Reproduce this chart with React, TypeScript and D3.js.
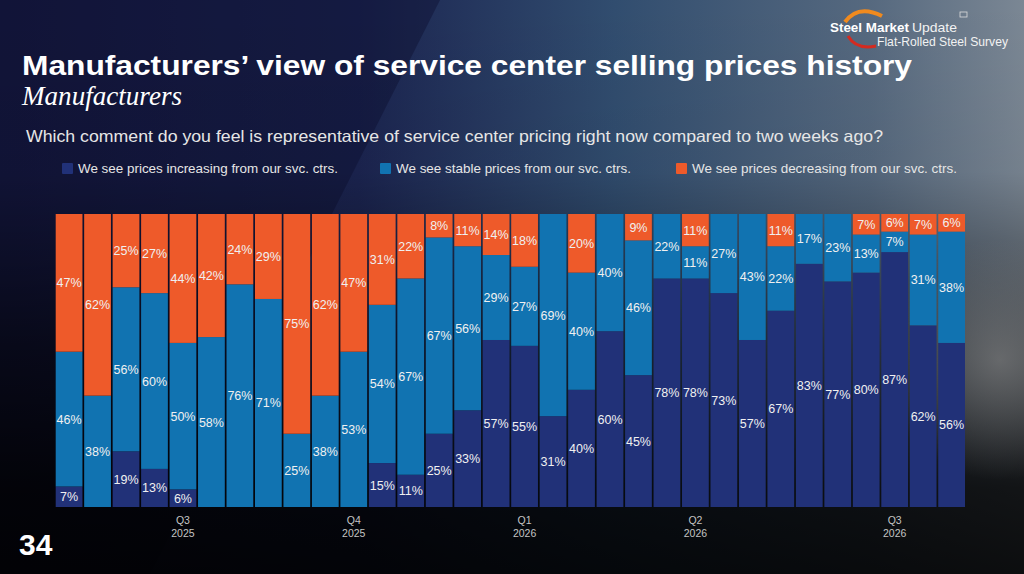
import React from "react";
import * as d3 from "d3";

const increasing = [7,0,19,13,6,0,0,0,0,0,0,15,11,25,33,57,55,31,40,60,45,78,78,73,57,67,83,77,80,87,62,56];
const stable = [46,38,56,60,50,58,76,71,25,38,53,54,67,67,56,29,27,69,40,40,46,22,11,27,43,22,17,23,13,7,31,38];
const decreasing = [47,62,25,27,44,42,24,29,75,62,47,31,22,8,11,14,18,0,20,0,9,0,11,0,0,11,0,0,7,6,7,6];

const quarterIdx = [4, 10, 16, 22, 29];
const quarterLabels = ["Q3", "Q4", "Q1", "Q2", "Q3"];
const quarterYears = ["2025", "2025", "2026", "2026", "2026"];

const seriesKeys = ["increasing", "stable", "decreasing"];
const seriesNames = [
  "We see prices increasing from our svc. ctrs.",
  "We see stable prices from our svc. ctrs.",
  "We see prices decreasing from our svc. ctrs.",
];
const colors = ["#213178", "#1173b1", "#ee5a2a"];

const W = 1024;
const H = 574;
const font = "'Liberation Sans', Arial, Helvetica, sans-serif";

export default function App() {
  const rows = increasing.map((v, i) => ({
    idx: i,
    increasing: v,
    stable: stable[i],
    decreasing: decreasing[i],
  }));
  const stack = d3.stack<any>().keys(seriesKeys)(rows);
  const x = d3
    .scaleBand<number>()
    .domain(rows.map((r) => r.idx))
    .range([55.7, 965])
    .paddingInner(0.06)
    .paddingOuter(0);
  const y = d3.scaleLinear().domain([0, 100]).range([507, 214]);
  const bw = x.bandwidth();

  const legendX = [62, 380, 676];
  const legendLen = [260, 235, 265];

  return (
    <svg
      width={W}
      height={H}
      viewBox={`0 0 ${W} ${H}`}
      style={{ position: "fixed", left: 0, top: 0, display: "block" }}
    >
      <defs>
        <linearGradient id="bgH" x1="0" y1="0" x2="1" y2="0">
          <stop offset="0" stopColor="#15183e" />
          <stop offset="0.35" stopColor="#1b2450" />
          <stop offset="0.6" stopColor="#314d6f" />
          <stop offset="0.85" stopColor="#56697f" />
          <stop offset="1" stopColor="#7b8794" />
        </linearGradient>
        <linearGradient id="bgV" x1="0" y1="0" x2="0" y2="1">
          <stop offset="0" stopColor="#000" stopOpacity="0" />
          <stop offset="0.3" stopColor="#000" stopOpacity="0.05" />
          <stop offset="0.6" stopColor="#000" stopOpacity="0.55" />
          <stop offset="0.85" stopColor="#000" stopOpacity="0.85" />
          <stop offset="1" stopColor="#000" stopOpacity="0.9" />
        </linearGradient>
        <radialGradient id="greyR" cx="1000" cy="360" r="120" gradientUnits="userSpaceOnUse">
          <stop offset="0" stopColor="#8a8a8a" stopOpacity="0.6" />
          <stop offset="1" stopColor="#8a8a8a" stopOpacity="0" />
        </radialGradient>
      </defs>
      <rect x={0} y={0} width={W} height={H} fill="url(#bgH)" />
      <polygon points="0,0 440,0 150,574 0,574" fill="#0d1030" opacity={0.45} />
      <rect x={0} y={0} width={W} height={H} fill="url(#bgV)" />
      <rect x={880} y={220} width={144} height={280} fill="url(#greyR)" />

      {/* Logo */}
      <path d="M845,22 Q858,4 882,16" fill="none" stroke="#f08a1e" strokeWidth={4} />
      <path d="M848,36 Q856,50 876,46" fill="none" stroke="#d42a20" strokeWidth={3} />
      <text x={830} y={31.5} fill="#fff" fontFamily={font} fontWeight="bold" fontSize={13} textLength={79} lengthAdjust="spacingAndGlyphs">
        Steel Market
      </text>
      <text x={912} y={31.5} fill="#f2f2f2" fontFamily={font} fontSize={13} textLength={45} lengthAdjust="spacingAndGlyphs">
        Update
      </text>
      <text x={877} y={46} fill="#f2f2f2" fontFamily={font} fontSize={12.5} textLength={131} lengthAdjust="spacingAndGlyphs">
        Flat-Rolled Steel Survey
      </text>
      <rect x={960} y={12} width={7} height={5} fill="none" stroke="#ddd" strokeWidth={0.8} />

      {/* Titles */}
      <text x={22} y={75} fill="#fff" fontFamily={font} fontWeight="bold" fontSize={28} textLength={890} lengthAdjust="spacingAndGlyphs">
        Manufacturers’ view of service center selling prices history
      </text>
      <text x={22} y={105} fill="#fff" fontFamily="'Liberation Serif', 'Times New Roman', serif" fontStyle="italic" fontSize={27} textLength={160} lengthAdjust="spacingAndGlyphs">
        Manufacturers
      </text>
      <text x={26} y={141.5} fill="#e6e6e6" fontFamily={font} fontSize={16.5} textLength={857} lengthAdjust="spacingAndGlyphs">
        Which comment do you feel is representative of service center pricing right now compared to two weeks ago?
      </text>

      {/* Legend */}
      {seriesNames.map((n, i) => (
        <g key={n}>
          <rect x={legendX[i]} y={163} width={11} height={11} rx={1} fill={colors[i]} />
          <text x={legendX[i] + 16} y={172.5} fill="#e6e6e6" fontFamily={font} fontSize={13} textLength={legendLen[i]} lengthAdjust="spacingAndGlyphs">
            {n}
          </text>
        </g>
      ))}

      {/* Bars */}
      {stack.map((s, si) => (
        <g key={s.key}>
          {s.map((d: any, i: number) => {
            const v = d[1] - d[0];
            if (v <= 0) return null;
            return (
              <rect
                key={i}
                x={x(i)}
                y={y(d[1])}
                width={bw}
                height={y(d[0]) - y(d[1])}
                fill={colors[si]}
              />
            );
          })}
        </g>
      ))}
      {stack.map((s, si) => (
        <g key={s.key + "l"}>
          {s.map((d: any, i: number) => {
            const v = d[1] - d[0];
            if (v <= 0) return null;
            return (
              <text
                key={i}
                x={(x(i) as number) + bw / 2}
                y={(y(d[0]) + y(d[1])) / 2}
                dy="0.36em"
                textAnchor="middle"
                fill="#f0f0f0"
                fontFamily={font}
                fontSize={12.5}
              >
                {v}%
              </text>
            );
          })}
        </g>
      ))}

      {/* X axis quarter labels */}
      {quarterIdx.map((qi, k) => {
        const cx = (x(qi) as number) + bw / 2;
        return (
          <g key={k}>
            <text x={cx} y={524} textAnchor="middle" fill="#c4c4c4" fontFamily={font} fontSize={10.5}>
              {quarterLabels[k]}
            </text>
            <text x={cx} y={537} textAnchor="middle" fill="#c4c4c4" fontFamily={font} fontSize={10.5}>
              {quarterYears[k]}
            </text>
          </g>
        );
      })}

      <text x={19} y={555} fill="#fff" fontFamily={font} fontWeight="bold" fontSize={30}>
        34
      </text>
    </svg>
  );
}
